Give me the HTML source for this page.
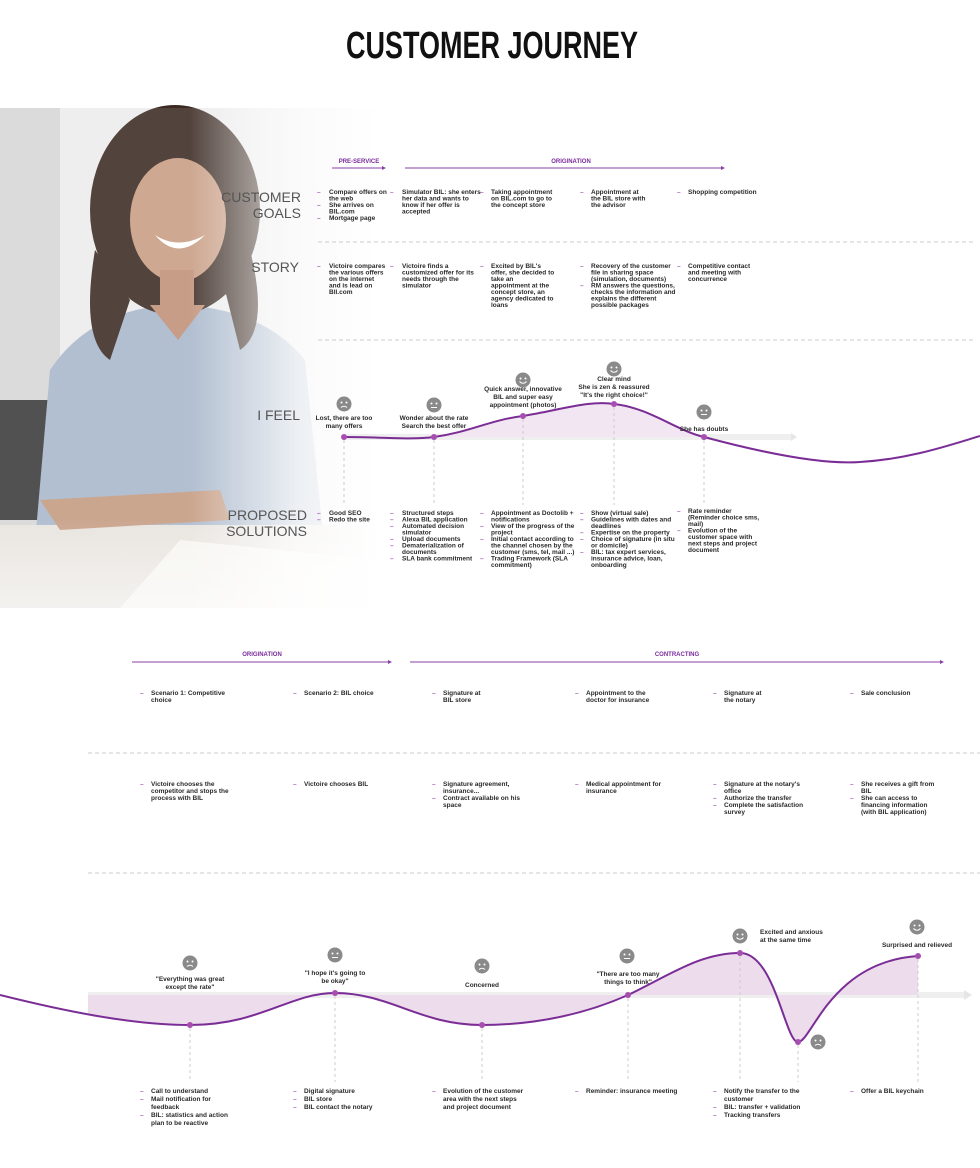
<!DOCTYPE html>
<html><head><meta charset="utf-8"><style>
html,body{margin:0;padding:0;background:#fff;}
svg{display:block}
text{font-family:"Liberation Sans",sans-serif;}
.s{font-size:6.5px;font-weight:bold;fill:#2a2a2a}
.c{text-anchor:middle}
.lab{font-size:14px;fill:#555;text-anchor:end}
.b{fill:#9b4fb0}
.ph{font-size:6px;font-weight:bold;fill:#7a2a9a;text-anchor:middle}
</style></head><body>
<svg width="980" height="1168" viewBox="0 0 980 1168" xmlns="http://www.w3.org/2000/svg">
<defs>
<linearGradient id="fade" x1="0" x2="1" y1="0" y2="0">
<stop offset="0" stop-color="#fff" stop-opacity="0"/>
<stop offset="0.55" stop-color="#fff" stop-opacity="0.75"/>
<stop offset="1" stop-color="#fff" stop-opacity="1"/>
</linearGradient>
<linearGradient id="fadeb" x1="0" x2="0" y1="0" y2="1">
<stop offset="0" stop-color="#fff" stop-opacity="0"/>
<stop offset="1" stop-color="#fff" stop-opacity="1"/>
</linearGradient>
<clipPath id="c1"><rect x="344" y="300" width="451" height="137"/></clipPath>
<clipPath id="c2"><rect x="88" y="900" width="830" height="200"/></clipPath>
<g id="face"><circle r="7.5" fill="#8a8a8a"/><circle cx="-2.5" cy="-1.5" r="1" fill="#fff"/><circle cx="2.5" cy="-1.5" r="1" fill="#fff"/><path d="M-3,2.5 L3,2.5" stroke="#fff" stroke-width="1"/></g>
<g id="smile"><circle r="7.5" fill="#8a8a8a"/><circle cx="-2.5" cy="-1.5" r="1" fill="#fff"/><circle cx="2.5" cy="-1.5" r="1" fill="#fff"/><path d="M-3.5,1.5 Q0,5 3.5,1.5" stroke="#fff" stroke-width="1" fill="none"/></g>
<g id="sad"><circle r="7.5" fill="#8a8a8a"/><circle cx="-2.5" cy="-1.5" r="1" fill="#fff"/><circle cx="2.5" cy="-1.5" r="1" fill="#fff"/><path d="M-3,3.5 Q0,1 3,3.5" stroke="#fff" stroke-width="1" fill="none"/></g>
</defs>

<text x="492" y="58" text-anchor="middle" style="font-family:'Liberation Sans Narrow','Liberation Sans',sans-serif;font-size:38px;font-weight:bold;fill:#111" textLength="292" lengthAdjust="spacingAndGlyphs">CUSTOMER JOURNEY</text>

<!-- photo -->
<rect x="0" y="108" width="380" height="500" fill="#ececec"/>
<rect x="0" y="108" width="60" height="500" fill="#d6d6d6"/>
<rect x="0" y="400" width="50" height="120" fill="#3a3a3a"/>
<path d="M30,600 L50,370 Q90,310 170,305 Q260,305 305,360 L330,600 Z" fill="#a8b7cb"/>
<ellipse cx="175" cy="210" rx="85" ry="105" fill="#3b2a22"/>
<path d="M95,250 Q80,340 110,360 L130,300 Z" fill="#3b2a22"/>
<path d="M250,250 Q270,330 240,350 L225,290 Z" fill="#3b2a22"/>
<ellipse cx="178" cy="220" rx="48" ry="62" fill="#c89c82"/>
<rect x="160" y="270" width="34" height="40" fill="#c09078"/>
<path d="M150,305 L178,340 L205,305 Z" fill="#c09078"/>
<path d="M155,235 Q178,262 205,235 Q178,250 155,235 Z" fill="#fff"/>
<rect x="0" y="525" width="380" height="83" fill="#e6e2dc"/>
<path d="M40,500 L220,490 L230,520 L60,530 Z" fill="#c49a80"/>
<path d="M180,540 L380,560 L380,608 L120,608 Z" fill="#f6f4ef"/>
<rect x="190" y="108" width="190" height="500" fill="url(#fade)"/>
<rect x="0" y="520" width="380" height="88" fill="url(#fadeb)" opacity="0.5"/>
<rect x="0" y="108" width="380" height="500" fill="#fff" opacity="0.12"/>

<!-- labels -->
<text class="lab" x="301" y="202">CUSTOMER</text>
<text class="lab" x="301" y="218">GOALS</text>
<text class="lab" x="299" y="272">STORY</text>
<text class="lab" x="300" y="420">I FEEL</text>
<text class="lab" x="307" y="520">PROPOSED</text>
<text class="lab" x="307" y="536">SOLUTIONS</text>

<!-- top phases -->
<text class="ph" x="359" y="163">PRE-SERVICE</text>
<line x1="332" y1="168" x2="384" y2="168" stroke="#8a3fa6" stroke-width="1"/><path d="M386,168 l-4,-2 v4 z" fill="#8a3fa6"/>
<text class="ph" x="571" y="163">ORIGINATION</text>
<line x1="405" y1="168" x2="723" y2="168" stroke="#8a3fa6" stroke-width="1"/><path d="M725,168 l-4,-2 v4 z" fill="#8a3fa6"/>

<line x1="318" y1="242" x2="976" y2="242" stroke="#ccc" stroke-dasharray="4,3"/>
<line x1="318" y1="340" x2="976" y2="340" stroke="#ccc" stroke-dasharray="4,3"/>

<g class="s">
<text x="329" y="194"><tspan x="329">Compare offers on</tspan><tspan x="329" dy="6.5">the web</tspan><tspan x="329" dy="6.5">She arrives on</tspan><tspan x="329" dy="6.5">BIL.com</tspan><tspan x="329" dy="6.5">Mortgage page</tspan></text>
<text class="b" x="317" y="194">–</text><text class="b" x="317" y="207">–</text><text class="b" x="317" y="220">–</text>
<text x="402" y="194"><tspan x="402">Simulator BIL: she enters</tspan><tspan x="402" dy="6.5">her data and wants to</tspan><tspan x="402" dy="6.5">know if her offer is</tspan><tspan x="402" dy="6.5">accepted</tspan></text>
<text class="b" x="390" y="194">–</text>
<text x="491" y="194"><tspan x="491">Taking appointment</tspan><tspan x="491" dy="6.5">on BIL.com to go to</tspan><tspan x="491" dy="6.5">the concept store</tspan></text>
<text class="b" x="480" y="194">–</text>
<text x="591" y="194"><tspan x="591">Appointment at</tspan><tspan x="591" dy="6.5">the BIL store with</tspan><tspan x="591" dy="6.5">the advisor</tspan></text>
<text class="b" x="580" y="194">–</text>
<text x="688" y="194">Shopping competition</text>
<text class="b" x="677" y="194">–</text>

<text x="329" y="268"><tspan x="329">Victoire compares</tspan><tspan x="329" dy="6.5">the various offers</tspan><tspan x="329" dy="6.5">on the internet</tspan><tspan x="329" dy="6.5">and is lead on</tspan><tspan x="329" dy="6.5">BIl.com</tspan></text>
<text class="b" x="317" y="268">–</text>
<text x="402" y="268"><tspan x="402">Victoire finds a</tspan><tspan x="402" dy="6.5">customized offer for its</tspan><tspan x="402" dy="6.5">needs through the</tspan><tspan x="402" dy="6.5">simulator</tspan></text>
<text class="b" x="390" y="268">–</text>
<text x="491" y="268"><tspan x="491">Excited by BIL's</tspan><tspan x="491" dy="6.5">offer, she decided to</tspan><tspan x="491" dy="6.5">take an</tspan><tspan x="491" dy="6.5">appointment at the</tspan><tspan x="491" dy="6.5">concept store, an</tspan><tspan x="491" dy="6.5">agency dedicated to</tspan><tspan x="491" dy="6.5">loans</tspan></text>
<text class="b" x="480" y="268">–</text>
<text x="591" y="268"><tspan x="591">Recovery of the customer</tspan><tspan x="591" dy="6.5">file in sharing space</tspan><tspan x="591" dy="6.5">(simulation, documents)</tspan><tspan x="591" dy="6.5">RM answers the questions,</tspan><tspan x="591" dy="6.5">checks the information and</tspan><tspan x="591" dy="6.5">explains the different</tspan><tspan x="591" dy="6.5">possible packages</tspan></text>
<text class="b" x="580" y="268">–</text><text class="b" x="580" y="287.5">–</text>
<text x="688" y="268"><tspan x="688">Competitive contact</tspan><tspan x="688" dy="6.5">and meeting with</tspan><tspan x="688" dy="6.5">concurrence</tspan></text>
<text class="b" x="677" y="268">–</text>

<text x="329" y="515"><tspan x="329">Good SEO</tspan><tspan x="329" dy="6.5">Redo the site</tspan></text>
<text class="b" x="317" y="515">–</text><text class="b" x="317" y="521.5">–</text>
<text x="402" y="515"><tspan x="402">Structured steps</tspan><tspan x="402" dy="6.5">Alexa BIL application</tspan><tspan x="402" dy="6.5">Automated decision</tspan><tspan x="402" dy="6.5">simulator</tspan><tspan x="402" dy="6.5">Upload documents</tspan><tspan x="402" dy="6.5">Dematerialization of</tspan><tspan x="402" dy="6.5">documents</tspan><tspan x="402" dy="6.5">SLA bank commitment</tspan></text>
<text class="b" x="390" y="515">–</text><text class="b" x="390" y="521.5">–</text><text class="b" x="390" y="528">–</text><text class="b" x="390" y="541">–</text><text class="b" x="390" y="547.5">–</text><text class="b" x="390" y="560.5">–</text>
<text x="491" y="515"><tspan x="491">Appointment as Doctolib +</tspan><tspan x="491" dy="6.5">notifications</tspan><tspan x="491" dy="6.5">View of the progress of the</tspan><tspan x="491" dy="6.5">project</tspan><tspan x="491" dy="6.5">Initial contact according to</tspan><tspan x="491" dy="6.5">the channel chosen by the</tspan><tspan x="491" dy="6.5">customer (sms, tel, mail ...)</tspan><tspan x="491" dy="6.5">Trading Framework (SLA</tspan><tspan x="491" dy="6.5">commitment)</tspan></text>
<text class="b" x="480" y="515">–</text><text class="b" x="480" y="528">–</text><text class="b" x="480" y="541">–</text><text class="b" x="480" y="560.5">–</text>
<text x="591" y="515"><tspan x="591">Show (virtual sale)</tspan><tspan x="591" dy="6.5">Guidelines with dates and</tspan><tspan x="591" dy="6.5">deadlines</tspan><tspan x="591" dy="6.5">Expertise on the property</tspan><tspan x="591" dy="6.5">Choice of signature (in situ</tspan><tspan x="591" dy="6.5">or domicile)</tspan><tspan x="591" dy="6.5">BIL: tax expert services,</tspan><tspan x="591" dy="6.5">insurance advice, loan,</tspan><tspan x="591" dy="6.5">onboarding</tspan></text>
<text class="b" x="580" y="515">–</text><text class="b" x="580" y="521.5">–</text><text class="b" x="580" y="534.5">–</text><text class="b" x="580" y="541">–</text><text class="b" x="580" y="554">–</text>
<text x="688" y="513"><tspan x="688">Rate reminder</tspan><tspan x="688" dy="6.5">(Reminder choice sms,</tspan><tspan x="688" dy="6.5">mail)</tspan><tspan x="688" dy="6.5">Evolution of the</tspan><tspan x="688" dy="6.5">customer space with</tspan><tspan x="688" dy="6.5">next steps and project</tspan><tspan x="688" dy="6.5">document</tspan></text>
<text class="b" x="677" y="513">–</text><text class="b" x="677" y="532.5">–</text>
</g>

<rect x="344" y="434" width="448" height="6" fill="#efefef"/><path d="M797,437 l-6,-4 v8 z" fill="#e6e6e6"/>
<path d="M344,437 C380,437 410,440 434,437 C470,432 490,420 523,416 C560,410 590,400 614,404 C650,408 675,430 704,437 C740,446 760,452 795,455 L795,437 Z" fill="#f2e6f2" clip-path="url(#c1)"/>
<path d="M344,437 C380,437 410,440 434,437 C470,432 490,420 523,416 C560,410 590,400 614,404 C650,408 675,430 704,437 C760,452 820,465 860,462 C910,459 950,445 980,436" stroke="#7b2d96" stroke-width="2" fill="none"/>
<g stroke="#ccc" stroke-dasharray="3,3"><line x1="344" y1="440" x2="344" y2="505"/><line x1="434" y1="440" x2="434" y2="505"/><line x1="523" y1="419" x2="523" y2="505"/><line x1="614" y1="407" x2="614" y2="505"/><line x1="704" y1="440" x2="704" y2="505"/></g>
<g fill="#a74fb0"><circle cx="344" cy="437" r="3"/><circle cx="434" cy="437" r="3"/><circle cx="523" cy="416" r="3"/><circle cx="614" cy="404" r="3"/><circle cx="704" cy="437" r="3"/></g>
<use href="#sad" x="344" y="404"/><use href="#face" x="434" y="405"/><use href="#smile" x="523" y="380"/><use href="#smile" x="614" y="369"/><use href="#face" x="704" y="412"/>
<g class="s c">
<text x="344" y="420"><tspan x="344">Lost, there are too</tspan><tspan x="344" dy="8">many offers</tspan></text>
<text x="434" y="420"><tspan x="434">Wonder about the rate</tspan><tspan x="434" dy="8">Search the best offer</tspan></text>
<text x="523" y="391"><tspan x="523">Quick answer, innovative</tspan><tspan x="523" dy="8">BIL and super easy</tspan><tspan x="523" dy="8">appointment (photos)</tspan></text>
<text x="614" y="381"><tspan x="614">Clear mind</tspan><tspan x="614" dy="8">She is zen &amp; reassured</tspan><tspan x="614" dy="8">"It's the right choice!"</tspan></text>
<text x="704" y="431">She has doubts</text>
</g>

<text class="ph" x="262" y="656">ORIGINATION</text>
<line x1="132" y1="662" x2="390" y2="662" stroke="#8a3fa6"/><path d="M392,662 l-4,-2 v4 z" fill="#8a3fa6"/>
<text class="ph" x="677" y="656">CONTRACTING</text>
<line x1="410" y1="662" x2="942" y2="662" stroke="#8a3fa6"/><path d="M944,662 l-4,-2 v4 z" fill="#8a3fa6"/>
<line x1="88" y1="753" x2="980" y2="753" stroke="#ccc" stroke-dasharray="4,3"/>
<line x1="88" y1="873" x2="980" y2="873" stroke="#ccc" stroke-dasharray="4,3"/>

<g class="s">
<text x="151" y="695"><tspan x="151">Scenario 1: Competitive</tspan><tspan x="151" dy="7">choice</tspan></text><text class="b" x="140" y="695">–</text>
<text x="304" y="695">Scenario 2: BIL choice</text><text class="b" x="293" y="695">–</text>
<text x="443" y="695"><tspan x="443">Signature at</tspan><tspan x="443" dy="7">BIL store</tspan></text><text class="b" x="432" y="695">–</text>
<text x="586" y="695"><tspan x="586">Appointment to the</tspan><tspan x="586" dy="7">doctor for insurance</tspan></text><text class="b" x="575" y="695">–</text>
<text x="724" y="695"><tspan x="724">Signature at</tspan><tspan x="724" dy="7">the notary</tspan></text><text class="b" x="713" y="695">–</text>
<text x="861" y="695">Sale conclusion</text><text class="b" x="850" y="695">–</text>

<text x="151" y="786"><tspan x="151">Victoire chooses the</tspan><tspan x="151" dy="7">competitor and stops the</tspan><tspan x="151" dy="7">process with BIL</tspan></text><text class="b" x="140" y="786">–</text>
<text x="304" y="786">Victoire chooses BIL</text><text class="b" x="293" y="786">–</text>
<text x="443" y="786"><tspan x="443">Signature agreement,</tspan><tspan x="443" dy="7">insurance...</tspan><tspan x="443" dy="7">Contract available on his</tspan><tspan x="443" dy="7">space</tspan></text><text class="b" x="432" y="786">–</text><text class="b" x="432" y="800">–</text>
<text x="586" y="786"><tspan x="586">Medical appointment for</tspan><tspan x="586" dy="7">insurance</tspan></text><text class="b" x="575" y="786">–</text>
<text x="724" y="786"><tspan x="724">Signature at the notary's</tspan><tspan x="724" dy="7">office</tspan><tspan x="724" dy="7">Authorize the transfer</tspan><tspan x="724" dy="7">Complete the satisfaction</tspan><tspan x="724" dy="7">survey</tspan></text><text class="b" x="713" y="786">–</text><text class="b" x="713" y="800">–</text><text class="b" x="713" y="807">–</text>
<text x="861" y="786"><tspan x="861">She receives a gift from</tspan><tspan x="861" dy="7">BIL</tspan><tspan x="861" dy="7">She can access to</tspan><tspan x="861" dy="7">financing information</tspan><tspan x="861" dy="7">(with BIL application)</tspan></text><text class="b" x="850" y="786">–</text><text class="b" x="850" y="800">–</text>

<text x="151" y="1093"><tspan x="151">Call to understand</tspan><tspan x="151" dy="8">Mail notification for</tspan><tspan x="151" dy="8">feedback</tspan><tspan x="151" dy="8">BIL: statistics and action</tspan><tspan x="151" dy="8">plan to be reactive</tspan></text><text class="b" x="140" y="1093">–</text><text class="b" x="140" y="1101">–</text><text class="b" x="140" y="1117">–</text>
<text x="304" y="1093"><tspan x="304">Digital signature</tspan><tspan x="304" dy="8">BIL store</tspan><tspan x="304" dy="8">BIL contact the notary</tspan></text><text class="b" x="293" y="1093">–</text><text class="b" x="293" y="1101">–</text><text class="b" x="293" y="1109">–</text>
<text x="443" y="1093"><tspan x="443">Evolution of the customer</tspan><tspan x="443" dy="8">area with the next steps</tspan><tspan x="443" dy="8">and project document</tspan></text><text class="b" x="432" y="1093">–</text>
<text x="586" y="1093">Reminder: insurance meeting</text><text class="b" x="575" y="1093">–</text>
<text x="724" y="1093"><tspan x="724">Notify the transfer to the</tspan><tspan x="724" dy="8">customer</tspan><tspan x="724" dy="8">BIL: transfer + validation</tspan><tspan x="724" dy="8">Tracking transfers</tspan></text><text class="b" x="713" y="1093">–</text><text class="b" x="713" y="1109">–</text><text class="b" x="713" y="1117">–</text>
<text x="861" y="1093">Offer a BIL keychain</text><text class="b" x="850" y="1093">–</text>
</g>

<rect x="88" y="992" width="876" height="6" fill="#efefef"/><path d="M972,995 l-8,-5 v10 z" fill="#e6e6e6"/>
<path d="M0,995 C60,1010 130,1025 190,1025 C260,1025 290,993 335,993 C390,993 420,1025 482,1025 C540,1025 590,1012 628,995 C670,975 700,953 740,953 C775,953 785,1042 798,1042 C812,1042 830,962 918,956 L918,995 L0,995 Z" fill="#ecdcec" clip-path="url(#c2)"/>
<path d="M0,995 C60,1010 130,1025 190,1025 C260,1025 290,993 335,993 C390,993 420,1025 482,1025 C540,1025 590,1012 628,995 C670,975 700,953 740,953 C775,953 785,1042 798,1042 C812,1042 830,962 918,956" stroke="#7b2d96" stroke-width="2" fill="none"/>
<g stroke="#ccc" stroke-dasharray="3,3"><line x1="190" y1="1028" x2="190" y2="1082"/><line x1="335" y1="996" x2="335" y2="1082"/><line x1="482" y1="1028" x2="482" y2="1082"/><line x1="628" y1="998" x2="628" y2="1082"/><line x1="740" y1="956" x2="740" y2="1082"/><line x1="798" y1="1045" x2="798" y2="1082"/><line x1="918" y1="959" x2="918" y2="1082"/></g>
<g fill="#a74fb0"><circle cx="190" cy="1025" r="3"/><circle cx="335" cy="993" r="3"/><circle cx="482" cy="1025" r="3"/><circle cx="628" cy="995" r="3"/><circle cx="740" cy="953" r="3"/><circle cx="798" cy="1042" r="3"/><circle cx="918" cy="956" r="3"/></g>
<use href="#sad" x="190" y="963"/><use href="#face" x="335" y="955"/><use href="#sad" x="482" y="966"/><use href="#face" x="627" y="956"/><use href="#smile" x="740" y="936"/><use href="#sad" x="818" y="1042"/><use href="#smile" x="917" y="927"/>
<g class="s c">
<text x="190" y="981"><tspan x="190">"Everything was great</tspan><tspan x="190" dy="8">except the rate"</tspan></text>
<text x="335" y="975"><tspan x="335">"I hope it's going to</tspan><tspan x="335" dy="8">be okay"</tspan></text>
<text x="482" y="987">Concerned</text>
<text x="628" y="976"><tspan x="628">"There are too many</tspan><tspan x="628" dy="8">things to think"</tspan></text>
<text x="917" y="947">Surprised and relieved</text>
</g>
<text class="s" x="760" y="934"><tspan x="760">Excited and anxious</tspan><tspan x="760" dy="8">at the same time</tspan></text>
</svg>
</body></html>
